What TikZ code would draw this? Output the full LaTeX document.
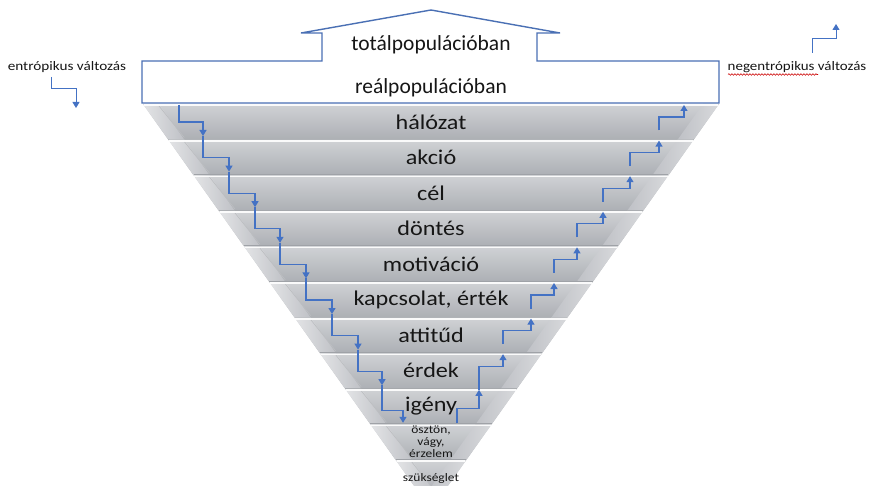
\documentclass[tikz,border=0pt]{standalone}
\usepackage{fontspec}
\usepackage{graphicx}
\setmainfont{Carlito}
\usetikzlibrary{arrows.meta,decorations.pathmorphing}

\definecolor{stair}{HTML}{4472C4}
\definecolor{frameblue}{HTML}{4A70B4}
\definecolor{bandtop}{HTML}{D0D2D5}
\definecolor{bandmid}{HTML}{BFC1C6}
\definecolor{bandbot}{HTML}{ACAFB4}
\definecolor{bevel}{HTML}{E3E4E6}
\definecolor{seam}{HTML}{9FA2A7}
\definecolor{ink}{HTML}{161616}

\newcommand\wide[2]{\scalebox{#1}[1]{#2}}

\tikzset{
  bandtext/.style={text=ink, inner sep=0pt, font=\fontsize{21}{24}\selectfont},
  toptext/.style={text=ink, inner sep=0pt, font=\fontsize{21.5}{24}\selectfont},
  smalltext/.style={text=ink, inner sep=0pt, font=\fontsize{11.5}{11.7}\selectfont},
  sidelabel/.style={text=ink, inner sep=0pt, font=\fontsize{13}{15}\selectfont},
  stairline/.style={draw=stair, line width=1.2pt, -{Triangle[width=7pt,length=6pt]}},
  frame/.style={draw=frameblue, line width=1.4pt, fill=white, line join=miter},
}

\begin{document}
\begin{tikzpicture}[x=1pt,y=-1pt]
\useasboundingbox (0,0) rectangle (869,486);
\clip (0,0) rectangle (869,486);
\fill[white] (0,0) rectangle (869,486);

% ---- layered inverted pyramid ----
\foreach \i in {0,...,10} {
  \pgfmathsetmacro\t{104+35.6*\i}
  \pgfmathsetmacro\b{\t+35.6}
  \pgfmathsetmacro\lt{143+0.71*(\t-104)}
  \pgfmathsetmacro\lb{143+0.71*(\b-104)}
  \pgfmathsetmacro\rt{719-0.71*(\t-104)}
  \pgfmathsetmacro\rb{719-0.71*(\b-104)}
  \shade[top color=bandtop, middle color=bandmid, bottom color=bandbot]
    (\lt,\t) -- (\rt,\t) -- (\rb,\b) -- (\lb,\b) -- cycle;
  % bevelled side faces
  \shade[left color=bevel, right color=bandmid]
    (\lt,\t) -- (\lt+16,\t) -- (\lb+16,\b) -- (\lb,\b) -- cycle;
  \shade[left color=bandmid, right color=bevel!80!bandbot]
    (\rt-16,\t) -- (\rt,\t) -- (\rb,\b) -- (\rb-16,\b) -- cycle;
  \draw[seam!70, line width=0.6pt] (\lt+16,\t+2) -- (\lb+16,\b-2);
  % seam and highlight between layers
  \draw[seam, line width=0.8pt] (\lb,\b-0.6) -- (\rb,\b-0.6);
  \draw[white, line width=1.6pt, opacity=0.9] (\lt+0.8,\t+1.2) -- (\rt-0.8,\t+1.2);
}

% ---- layer captions ----
\node[bandtext] (l0) at (431,122) {\wide{1.15}{hálózat}};
\node[bandtext] (l1) at (431,157.5) {\wide{1.15}{akció}};
\node[bandtext] (l2) at (431,193) {\wide{1.15}{cél}};
\node[bandtext] (l3) at (431,228.5) {\wide{1.15}{döntés}};
\node[bandtext] (l4) at (431,264) {\wide{1.15}{motiváció}};
\node[bandtext] (l5) at (431,299.5) {\wide{1.15}{kapcsolat, érték}};
\node[bandtext] (l6) at (431,335) {\wide{1.15}{attitűd}};
\node[bandtext] (l7) at (431,370.5) {\wide{1.15}{érdek}};
\node[bandtext] (l8) at (431,406) {\wide{1.15}{igény}};
\node[smalltext] (l9) at (431,443) {\wide{1.17}{\begin{tabular}{@{}c@{}}ösztön,\\ vágy,\\ érzelem\end{tabular}}};
\node[smalltext] (l10) at (431,478) {\wide{1.17}{szükséglet}};

% ---- entropic staircase (downwards, left) ----
\def\lx{{179,203,229,255,280,306,332,358,382,403}}
\foreach \i in {0,...,8} {
  \pgfmathsetmacro\t{104+35.6*\i}
  \pgfmathsetmacro\xa{\lx[\i]}
  \pgfmathsetmacro\xb{\lx[\i+1]}
  \pgfmathsetmacro\ys{\i==0 ? \t+1 : \t-3.6}
  \pgfmathsetmacro\yh{\i==8 ? \t+22 : \t+18}
  \pgfmathsetmacro\ye{\i==8 ? \t+34 : \t+32}
  \coordinate (ds\i) at (\xa,\ys);
  \coordinate (de\i) at (\xb,\ye);
  \draw[stairline] (ds\i) |- (\xb,\yh) -- (de\i);
}

% ---- negentropic staircase (upwards, right) ----
\def\rx{{684,659,630,603,577,554,531,503,479,457}}
\foreach \i in {0,...,8} {
  \pgfmathsetmacro\t{104+35.6*\i}
  \pgfmathsetmacro\xa{\rx[\i+1]}
  \pgfmathsetmacro\xb{\rx[\i]}
  \pgfmathsetmacro\ys{\i==7 ? \t+37 : (\i==8 ? \t+34.5 : \t+26.5)}
  \pgfmathsetmacro\yh{\i==8 ? \t+19.5 : \t+13}
  \coordinate (us\i) at (\xa,\ys);
  \coordinate (ue\i) at (\xb,\t+1);
  \draw[stairline] (us\i) |- (\xb,\yh) -- (ue\i);
}

% ---- population frame (up-arrow callout) ----
\draw[frame] (142,103) -- (142,61) -- (322,61) -- (322,33) -- (301,33)
  -- (431,10) -- (560,33) -- (537,33) -- (537,61) -- (719,61) -- (719,103) -- cycle;
\node[toptext] (tot) at (431,45) {totálpopulációban};
\node[toptext] (real) at (431,88) {reálpopulációban};

% ---- side labels with their small step arrows ----
\node[sidelabel] (entr) at (67,67) {\wide{1.17}{entrópikus változás}};
\coordinate (entrA) at (51.5,77);
\coordinate (entrB) at (76,108);
\draw[stairline, line width=1pt] (entrA) |- (76,88.5) -- (entrB);

\node[sidelabel] (negentr) at (797,67) {\wide{1.15}{negentrópikus változás}};
\coordinate (negA) at (812.5,53);
\coordinate (negB) at (836,24);
\draw[stairline, line width=1pt] (negA) |- (836,38.5) -- (negB);
\draw[red!80!black, line width=0.6pt, decorate,
      decoration={snake, amplitude=0.8pt, segment length=3pt}]
  (728,74.5) -- (818,74.5);
\end{tikzpicture}
\end{document}
